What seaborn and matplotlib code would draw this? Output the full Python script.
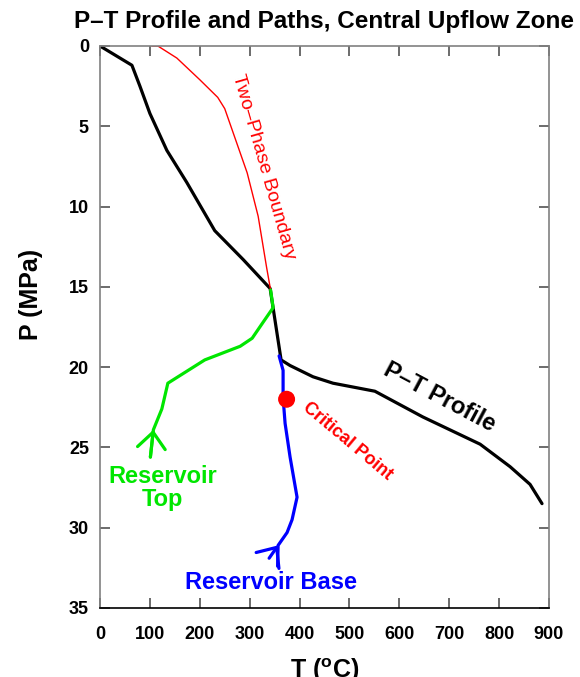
import matplotlib
matplotlib.use("Agg")
import matplotlib.pyplot as plt
from matplotlib.patches import ArrowStyle
import seaborn as sns

# Measured P-T profile through the central upflow zone (T in degC, P in MPa)
profile_T = [0, 64, 80, 100, 134, 174, 230, 287, 341, 363, 381, 427, 467, 551, 647, 762, 822, 862, 886]
profile_P = [0, 1.2, 2.5, 4.2, 6.5, 8.5, 11.5, 13.3, 15.1, 19.55, 19.9, 20.6, 21.0, 21.5, 23.1, 24.8, 26.2, 27.3, 28.5]

# Liquid-vapour (two-phase) boundary
boundary_T = [104, 116, 154, 200, 236, 250, 295, 317, 334, 342]
boundary_P = [0, 0, 0.75, 2.1, 3.2, 3.9, 7.9, 10.6, 13.8, 15.2]

# Fluid path from the reservoir top (listed in flow direction, bottom first)
top_T = [101, 107, 124, 136, 210, 281, 305, 327, 347, 342]
top_P = [25.6, 23.9, 22.6, 21.0, 19.55, 18.7, 18.2, 17.2, 16.3, 15.2]

# Fluid path from the reservoir base (listed in flow direction, bottom first)
base_T = [356, 357, 375, 385, 395, 381, 371, 367, 367, 359]
base_P = [32.4, 31.1, 30.3, 29.5, 28.1, 25.6, 23.5, 21.9, 20.2, 19.3]

# Critical point of water
critical_T = [374]
critical_P = [22.0]

T_ticks = [0, 100, 200, 300, 400, 500, 600, 700, 800, 900]
P_ticks = [0, 5, 10, 15, 20, 25, 30, 35]

RED = "#ff0000"
GREEN = "#00e600"
BLUE = "#0000ff"

sns.set_theme(style="ticks")
plt.rcParams["font.family"] = ["Liberation Sans", "DejaVu Sans"]
plt.rcParams["mathtext.fontset"] = "custom"
plt.rcParams["mathtext.rm"] = "Liberation Sans"
plt.rcParams["mathtext.bf"] = "Liberation Sans:bold"
plt.rcParams["text.color"] = "black"
plt.rcParams["axes.labelcolor"] = "black"
plt.rcParams["xtick.labelcolor"] = "black"
plt.rcParams["ytick.labelcolor"] = "black"

fig = plt.figure(figsize=(5.8, 6.77), dpi=100)
ax = fig.add_axes([100 / 580, 69 / 677, 449 / 580, 562 / 677])

sns.lineplot(x=profile_T, y=profile_P, sort=False, estimator=None,
             color="black", lw=2.3, ax=ax)
sns.lineplot(x=boundary_T, y=boundary_P, sort=False, estimator=None,
             color=RED, lw=1.0, ax=ax)
sns.lineplot(x=top_T, y=top_P, sort=False, estimator=None,
             color=GREEN, lw=2.3, ax=ax)
sns.lineplot(x=base_T, y=base_P, sort=False, estimator=None,
             color=BLUE, lw=2.3, ax=ax)
sns.scatterplot(x=critical_T, y=critical_P, color=RED, s=150,
                edgecolor="none", ax=ax, zorder=5)

# Arrow heads showing the flow direction at the start of each path
head = ArrowStyle("->", head_length=11.5, head_width=10)
ax.annotate("", xy=(top_T[1], top_P[1]), xytext=(top_T[0], top_P[0]),
            arrowprops=dict(arrowstyle=head, color=GREEN, lw=2.3,
                            mutation_scale=1, shrinkA=0, shrinkB=0))
back_T = 2 * base_T[1] - base_T[2]
back_P = 2 * base_P[1] - base_P[2]
ax.annotate("", xy=(base_T[1], base_P[1]), xytext=(back_T, back_P),
            arrowprops=dict(arrowstyle=head, color=BLUE, lw=2.3,
                            mutation_scale=1, shrinkA=0, shrinkB=0))

# Curve labels
ax.text(327, 7.5, "Two\u2013Phase Boundary", color=RED, fontsize=14,
        rotation=-74, rotation_mode="anchor", ha="center", va="center")
ax.text(497, 24.6, "Critical Point", color=RED, fontsize=13, fontweight="bold",
        rotation=-40, rotation_mode="anchor", ha="center", va="center")
ax.text(681, 21.9, "P\u2013T Profile", color="black", fontsize=17, fontweight="bold",
        rotation=-28, rotation_mode="anchor", ha="center", va="center")
ax.text(126, 27.5, "Reservoir\nTop", color=GREEN, fontsize=17, fontweight="bold",
        ha="center", va="center", linespacing=1.0)
ax.text(343, 33.4, "Reservoir Base", color=BLUE, fontsize=17, fontweight="bold",
        ha="center", va="center")

ax.set_xlim(0, 900)
ax.set_ylim(35, 0)
ax.set_xticks(T_ticks)
ax.set_yticks(P_ticks)
ax.set_xticklabels([str(t) for t in T_ticks], fontweight="bold")
ax.set_yticklabels([str(p) for p in P_ticks], fontweight="bold")
ax.tick_params(axis="both", direction="in", length=7, width=1.1, color="#444444",
               labelsize=13, labelcolor="black", top=True, right=True)
ax.tick_params(axis="x", pad=13)
ax.tick_params(axis="y", pad=8)

for side in ("left", "top", "right"):
    ax.spines[side].set_color("#808080")
    ax.spines[side].set_linewidth(1.2)
ax.spines["bottom"].set_color("black")
ax.spines["bottom"].set_linewidth(1.2)

ax.set_xlabel(r"T ($^{\mathbf{o}}$C)", fontsize=18, fontweight="bold", color="black")
ax.xaxis.label.set_va("baseline")
ax.xaxis.set_label_coords(0.5, -0.1246)
ax.set_ylabel("P (MPa)", fontsize=18, fontweight="bold", color="black")
ax.yaxis.label.set_va("center")
ax.yaxis.set_label_coords(-0.1537, 0.558)

ax.set_title("P\u2013T Profile and Paths, Central Upflow Zone",
             fontsize=17.5, fontweight="bold", pad=13, color="black")

fig.savefig("out.png", dpi=100)
